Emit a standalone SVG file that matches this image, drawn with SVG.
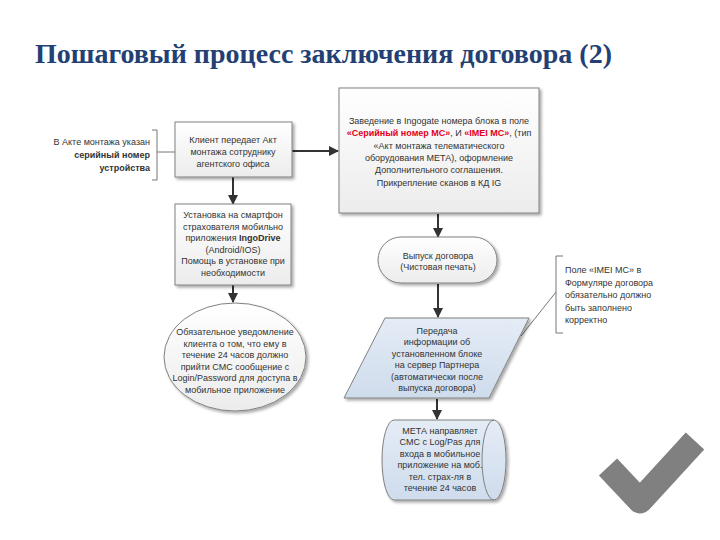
<svg xmlns="http://www.w3.org/2000/svg" width="720" height="540" viewBox="0 0 720 540">
<defs>
<style>
.t{font-family:"Liberation Sans",Arial,sans-serif;font-size:9px;fill:#333;text-anchor:middle}
.l{text-anchor:start}
.r{text-anchor:end}
.b{font-weight:bold}
.red{fill:#e3001b;font-weight:bold}
.box{fill:url(#gw);stroke:#808080;stroke-width:1}
.blue{fill:url(#gb);stroke:#808080;stroke-width:1}
.con{stroke:#333;stroke-width:2;fill:none}
.brk{stroke:#777;stroke-width:1;fill:none}
</style>
<linearGradient id="gw" x1="0" y1="0" x2="0" y2="1"><stop offset="0" stop-color="#ffffff"/><stop offset="1" stop-color="#ececec"/></linearGradient>
<linearGradient id="gb" x1="0" y1="0" x2="0" y2="1"><stop offset="0" stop-color="#e4ecf6"/><stop offset="1" stop-color="#cfdcec"/></linearGradient>
<filter id="sh" x="-10%" y="-10%" width="125%" height="130%"><feDropShadow dx="2" dy="2" stdDeviation="1.5" flood-color="#000" flood-opacity="0.35"/></filter>
<marker id="ar" markerWidth="10" markerHeight="10" refX="9" refY="5" orient="auto" markerUnits="userSpaceOnUse"><path d="M0,0 L10,5 L0,10 Z" fill="#333"/></marker>
</defs>
<rect width="720" height="540" fill="#fff"/>
<text x="35" y="63" font-family="Liberation Serif,serif" font-weight="bold" font-size="28" fill="#243f73" textLength="577" lengthAdjust="spacingAndGlyphs">Пошаговый процесс заключения договора (2)</text>

<g id="connectors">
<line class="con" x1="292" y1="151" x2="338" y2="151" marker-end="url(#ar)"/>
<line class="con" x1="233" y1="177" x2="233" y2="204" marker-end="url(#ar)"/>
<line class="con" x1="233" y1="285" x2="233" y2="302" marker-end="url(#ar)"/>
<line class="con" x1="438" y1="214" x2="438" y2="237" marker-end="url(#ar)"/>
<line class="con" x1="438" y1="284" x2="438" y2="317" marker-end="url(#ar)"/>
<line class="con" x1="437" y1="399" x2="437" y2="419" marker-end="url(#ar)"/>
<line x1="157" y1="152" x2="175" y2="152" stroke="#777" stroke-width="1"/>
<line x1="556" y1="292" x2="521" y2="336" stroke="#777" stroke-width="1"/>
</g>

<g id="note-left">
<path class="brk" d="M152,130 H157 V180 H152"/>
<text class="t r" x="150" y="145">В Акте монтажа указан</text>
<text class="t r b" x="150" y="158">серийный номер</text>
<text class="t r b" x="150" y="171">устройства</text>
</g>

<g id="box1">
<rect class="box" x="175" y="122" width="117" height="55" filter="url(#sh)"/>
<text class="t" x="233" y="143">Клиент передает Акт</text>
<text class="t" x="233" y="155">монтажа сотруднику</text>
<text class="t" x="233" y="167">агентского офиса</text>
</g>

<g id="box2">
<rect class="box" x="175" y="204" width="116" height="81" filter="url(#sh)"/>
<text class="t" x="233" y="218">Установка на смартфон</text>
<text class="t" x="233" y="229.5">страхователя мобильно</text>
<text class="t" x="233" y="241">приложения <tspan class="b">IngoDrive</tspan></text>
<text class="t" x="233" y="252.5">(Android/IOS)</text>
<text class="t" x="233" y="264">Помощь в установке при</text>
<text class="t" x="233" y="275.5">необходимости</text>
</g>

<g id="circle">
<ellipse class="box" cx="235" cy="357" rx="71" ry="54" filter="url(#sh)"/>
<text class="t" x="235" y="335">Обязательное уведомление</text>
<text class="t" x="235" y="346.6">клиента о том, что ему в</text>
<text class="t" x="235" y="358.2">течение 24 часов должно</text>
<text class="t" x="235" y="369.8">прийти СМС сообщение с</text>
<text class="t" x="235" y="381.4">Login/Password для доступа в</text>
<text class="t" x="235" y="393">мобильное приложение</text>
</g>

<g id="box3">
<rect class="box" x="339" y="88" width="200" height="125" filter="url(#sh)"/>
<text class="t" x="439" y="124">Заведение в Ingogate номера блока в поле</text>
<text class="t" x="439" y="136.3"><tspan class="red">«Серийный номер МС»</tspan>, И <tspan class="red">«IMEI МС»</tspan>,  (тип</text>
<text class="t" x="439" y="148.6">«Акт монтажа телематического</text>
<text class="t" x="439" y="160.9">оборудования МЕТА), оформление</text>
<text class="t" x="439" y="173.2">Дополнительного соглашения.</text>
<text class="t" x="439" y="185.5">Прикрепление сканов в КД IG</text>
</g>

<g id="stadium">
<rect class="box" x="378" y="237" width="119" height="46" rx="23" ry="23" filter="url(#sh)"/>
<text class="t" x="438" y="258.5">Выпуск договора</text>
<text class="t" x="438" y="270">(Чистовая печать)</text>
</g>

<g id="note-right">
<path class="brk" d="M563,256 H556 V333 H563"/>
<text class="t l" x="565" y="273">Поле «IMEI МС» в</text>
<text class="t l" x="565" y="285.5">Формуляре договора</text>
<text class="t l" x="565" y="298">обязательно должно</text>
<text class="t l" x="565" y="310.5">быть заполнено</text>
<text class="t l" x="565" y="323">корректно</text>
</g>

<g id="parallelogram">
<polygon class="blue" points="385,318 529,318 489,398 344,398" filter="url(#sh)"/>
<text class="t" x="437" y="333.5">Передача</text>
<text class="t" x="437" y="345">информации об</text>
<text class="t" x="437" y="356.5">установленном блоке</text>
<text class="t" x="437" y="368">на сервер Партнера</text>
<text class="t" x="437" y="379.5">(автоматически после</text>
<text class="t" x="437" y="391">выпуска договора)</text>
</g>

<g id="cylinder">
<path class="blue" d="M394,420 H494 A12,40 0 0 1 494,500 H394 A12,40 0 0 1 394,420 Z" filter="url(#sh)"/>
<path d="M494,420 A12,40 0 0 0 494,500" fill="none" stroke="#808080" stroke-width="1"/>
<text class="t" x="440" y="433.5">МЕТА направляет</text>
<text class="t" x="440" y="445">СМС с Log/Pas для</text>
<text class="t" x="440" y="456.5">входа в мобильное</text>
<text class="t" x="440" y="468">приложение на моб.</text>
<text class="t" x="440" y="479.5">тел. страх-ля в</text>
<text class="t" x="440" y="491">течение 24 часов</text>
</g>

<g id="check">
<polyline points="608,467 640,501 695,441" fill="none" stroke="#808080" stroke-width="25" stroke-linejoin="round" stroke-linecap="butt"/>
</g>
</svg>
